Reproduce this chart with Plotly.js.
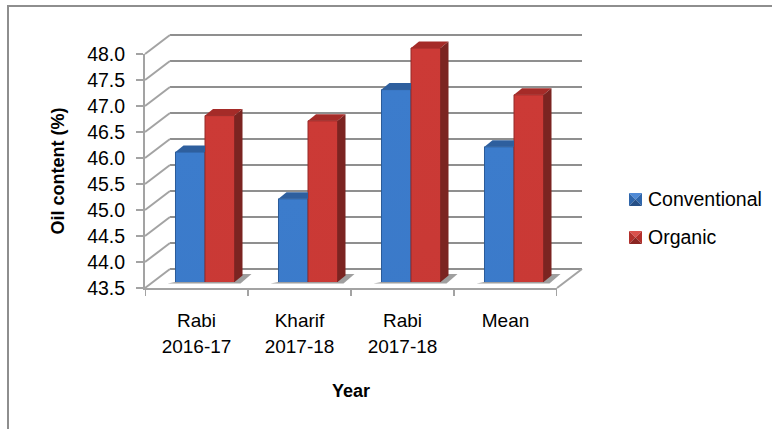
<!DOCTYPE html>
<html><head><meta charset="utf-8">
<script src="https://cdn.plot.ly/plotly-3.0.1.min.js"></script>
<style>html,body{margin:0;padding:0;background:#fff}#c{width:772px;height:429px}</style>
</head><body><div id="c"></div>
<script>
const categories = ["Rabi<br>2016-17","Kharif<br>2017-18","Rabi<br>2017-18","Mean"];
const seriesNames = ["Conventional","Organic"];
const conventional = [46.0,45.1,47.2,46.1];
const organic = [46.7,46.6,48.0,47.1];
const yMin = 43.5, yMax = 48.0;
const yTicks = [43.5,44,44.5,45,45.5,46,46.5,47,47.5,48];
const xAxisTitle = "Year", yAxisTitle = "Oil content (%)";

const W=772,H=429;
// geometry in pixels
const fx0=145,fx1=557,fy0=288,fy1=54;  // front plane
const uX=(fx1-fx0)/4, uY=(fy0-fy1)/(yMax-yMin);
const wallDX=25, wallDY=19;            // back wall offset from the front plane
const barDX=8.5, barDY=6;              // bar plane offset from the front plane
const gapFrac=0.427, halfBar=(1-gapFrac)/2;
const depthX=8/uX, depthY=6.5/uY;
const xr=[-0.5,3.5], yr=[yMin,yMax];

// domain of an axis from the plane's pixel origin and the data range wanted
const domX=(ox,r)=>[(ox+(r[0]-xr[0])*uX)/W,(ox+(r[1]-xr[0])*uX)/W];
const domY=(oy,r)=>[1-(oy-(r[0]-yMin)*uY)/H,1-(oy-(r[1]-yMin)*uY)/H];

const GRID=['x','y'],FLOOR=['x2','y2'],BAR=['x3','y3'],FRONT=['x4','y4'];
const floorXR=[-0.9,3.9], floorYR=[43.2,48.6];     // roomy invisible plane for diagonals and shadows
const barXR=[-0.5,3.7], barYR=[yMin,48.5];
const gridYR=[43.3,48.2];

function poly(xs,ys,fill,axis){
  return {type:'scatter',mode:'lines',x:xs,y:ys,fill:'toself',fillcolor:fill,
    line:{width:0,color:fill},xaxis:axis[0],yaxis:axis[1],hoverinfo:'skip',showlegend:false};
}
const traces=[];
traces.push({type:'scatter',mode:'none',x:[0,1,2,3],y:organic,xaxis:'x',yaxis:'y',hoverinfo:'skip',showlegend:false});
// diagonals: expressed in the bar plane (floor axes share its origin and scale)
const frontC=c=>c-barDX/uX, frontV=v=>v-barDY/uY;
const backC=c=>c+(wallDX-barDX)/uX, backV=v=>v+(wallDY-barDY)/uY;
const wx=[],wy=[];
yTicks.forEach(t=>{wx.push(frontC(xr[0]),backC(xr[0]),null);wy.push(frontV(t),backV(t),null);});
wx.push(frontC(xr[1]),backC(xr[1]),null);wy.push(frontV(yMin),backV(yMin),null);
traces.push({type:'scatter',mode:'lines',x:wx,y:wy,line:{color:'#a3a3a3',width:2},xaxis:'x2',yaxis:'y2',hoverinfo:'skip',showlegend:false});
categories.forEach((_,i)=>{
  const a=i-halfBar,b=i+halfBar,u=1/uX,v=1/uY;
  traces.push(poly([a-8*u,b+6*u,b+17*u,b+8*u,a],
    [yMin-1.5*v,yMin-1.5*v,yMin+8*v,yMin+8*v,yMin],'rgba(95,95,95,0.6)',FLOOR));
});
// bars
traces.push({type:'bar',name:seriesNames[0],x:[0,1,2,3],y:conventional,xaxis:'x3',yaxis:'y3',
  marker:{color:'#3572bd',line:{color:'#2a5b98',width:1}},showlegend:false});
traces.push({type:'bar',name:seriesNames[1],x:[0,1,2,3],y:organic,xaxis:'x3',yaxis:'y3',
  marker:{color:'#bd3430',line:{color:'#952b28',width:1}},showlegend:false});
// 3-D faces derived from the values
conventional.forEach((v,i)=>{
  const a=i-halfBar,m=i;
  traces.push(poly([a,a+depthX,m,m,a],[v,v+depthY,v+depthY,v,v],'#2e5f9e',BAR));
});
organic.forEach((v,i)=>{
  const m=i,b=i+halfBar;
  traces.push(poly([m,m+depthX,b+depthX,b,m],[v,v+depthY,v+depthY,v,v],'#a52b28',BAR));
  traces.push(poly([b,b+depthX,b+depthX,b,b],[v,v+depthY,yMin+depthY,yMin,v],'#7b2421',BAR));
});
traces.push({type:'scatter',mode:'none',x:[0,1,2,3],y:conventional,xaxis:'x4',yaxis:'y4',hoverinfo:'skip',showlegend:false});

const hidden={visible:true,showgrid:false,showticklabels:false,ticks:'',zeroline:false,showline:false,fixedrange:true};
const font={family:'"Liberation Sans",Arial,sans-serif',color:'#000'};
const pX=x=>x/W, pY=y=>1-y/H;
function swatch(x0,y0,s,top,side,bottom){
  const x1=x0+s,y1=y0+s,cx=x0+s/2,cy=y0+s/2,sh=[];
  const tri=(p,c)=>sh.push({type:'path',xref:'paper',yref:'paper',fillcolor:c,line:{width:0},
    path:'M'+p.map(q=>pX(q[0])+','+pY(q[1])).join('L')+'Z'});
  tri([[x0,y0],[x1,y0],[cx,cy]],top);
  tri([[x0,y0],[cx,cy],[x0,y1]],side);
  tri([[x1,y0],[cx,cy],[x1,y1]],side);
  tri([[x0,y1],[x1,y1],[cx,cy]],bottom);
  return sh;
}
const borderShapes=[
  {type:'line',xref:'paper',yref:'paper',x0:pX(8),x1:pX(8),y0:pY(6),y1:pY(429),line:{color:'#8e8e8e',width:2}},
  {type:'line',xref:'paper',yref:'paper',x0:pX(7),x1:pX(772),y0:pY(6),y1:pY(6),line:{color:'#8e8e8e',width:2}}
];
const layout={
  width:W,height:H,margin:{l:0,r:0,t:0,b:0},paper_bgcolor:'#fff',plot_bgcolor:'rgba(0,0,0,0)',
  showlegend:false,barmode:'group',bargap:gapFrac,bargroupgap:0,font:font,
  xaxis:{...hidden,domain:domX(fx0+wallDX,xr),range:xr,anchor:'y'},
  yaxis:{...hidden,domain:domY(fy0-wallDY,gridYR),range:gridYR,anchor:'x',showgrid:true,gridcolor:'#8f8f8f',gridwidth:2,tickmode:'array',tickvals:yTicks},
  xaxis2:{...hidden,domain:domX(fx0+barDX,floorXR),range:floorXR,anchor:'y2'},
  yaxis2:{...hidden,domain:domY(fy0-barDY,floorYR),range:floorYR,anchor:'x2'},
  xaxis3:{...hidden,domain:domX(fx0+barDX,barXR),range:barXR,anchor:'y3'},
  yaxis3:{...hidden,domain:domY(fy0-barDY,barYR),range:barYR,anchor:'x3'},
  xaxis4:{domain:domX(fx0,xr),range:xr,anchor:'y4',tickmode:'array',tickvals:[0,1,2,3],ticktext:categories,
    ticks:'',showline:true,linecolor:'#a3a3a3',linewidth:2,showgrid:false,zeroline:false,fixedrange:true,ticklabelstandoff:14,
    tickfont:{...font,size:19},title:{text:xAxisTitle,font:{...font,size:18,weight:'bold'},standoff:30}},
  yaxis4:{domain:domY(fy0,yr),range:yr,anchor:'x4',tickmode:'array',tickvals:yTicks,ticktext:yTicks.map(t=>t.toFixed(1)),
    ticks:'outside',ticklen:7,tickwidth:2,tickcolor:'#a3a3a3',showline:true,linecolor:'#a3a3a3',linewidth:2,showgrid:false,zeroline:false,fixedrange:true,
    ticklabelstandoff:7,tickfont:{...font,size:19.5},title:{text:yAxisTitle,font:{...font,size:18,weight:'bold'},standoff:18}},
  shapes:[...borderShapes,
    ...[-0.5,0.5,1.5,2.5,3.5].map(c=>({type:'line',xref:'x4',yref:'paper',x0:c,x1:c,y0:pY(fy0),y1:pY(fy0+8),line:{color:'#a3a3a3',width:2}})),
    ...swatch(629,193,13,'#4f8ad6','#2f66ab','#264f86'),
    ...swatch(629,231,13,'#d9514c','#b3302c','#8a2522')],
  annotations:[
    {xref:'paper',yref:'paper',x:pX(645.5),y:pY(199),text:seriesNames[0],showarrow:false,xanchor:'left',yanchor:'middle',font:{...font,size:19.5}},
    {xref:'paper',yref:'paper',x:pX(645.5),y:pY(237),text:seriesNames[1],showarrow:false,xanchor:'left',yanchor:'middle',font:{...font,size:19.5}}
  ]
};
Plotly.newPlot('c',traces,layout,{displayModeBar:false,staticPlot:true}).then(gd=>{
  const svg=gd.querySelector('svg.main-svg');
  const ns='http://www.w3.org/2000/svg';
  const defs=svg.querySelector('defs');
  const grad=(id,a,b)=>{
    const g=document.createElementNS(ns,'linearGradient');
    g.setAttribute('id',id);g.setAttribute('x1','0');g.setAttribute('y1','0');g.setAttribute('x2','0');g.setAttribute('y2','1');
    [[0,a],[1,b]].forEach(s=>{const st=document.createElementNS(ns,'stop');st.setAttribute('offset',s[0]);st.setAttribute('stop-color',s[1]);g.appendChild(st);});
    defs.appendChild(g);
  };
  grad('gBlue','#3c7ccc','#2c5fa6');
  grad('gRed','#cc3a36','#a62d2a');
  gd.querySelectorAll('.barlayer .trace').forEach((t,i)=>t.querySelectorAll('path').forEach(p=>{p.style.fill=`url(#${i?'gRed':'gBlue'})`;}));
  gd.querySelectorAll('.xaxislayer-above tspan.line').forEach(t=>{const d=t.getAttribute('dy');if(d&&parseFloat(d)!==0)t.setAttribute('dy','26px');});
});
</script></body></html>
